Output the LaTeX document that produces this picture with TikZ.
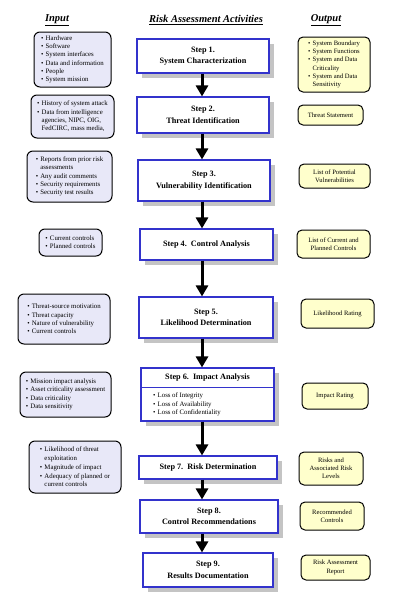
\documentclass[tikz,border=0pt]{standalone}
\usepackage{fontspec}
\setmainfont{Liberation Serif}
\usetikzlibrary{arrows.meta,shadows}
\pgfdeclarelayer{bg}
\pgfsetlayers{bg,main}
\definecolor{stepblue}{HTML}{3333CC}
\definecolor{infill}{HTML}{E8E8F8}
\definecolor{outfill}{HTML}{FFFFCC}
\definecolor{shadowgray}{HTML}{C4C4C4}
\newcommand\bul[1]{\makebox[4.5pt][l]{•}#1}
\newcommand\ind{\hspace*{4.5pt}}
\begin{document}
\begin{tikzpicture}[x=1pt,y=-1pt,
  stepbox/.style={draw=stepblue, line width=1.1pt, fill=white, inner sep=0pt, align=center,
    font=\fontsize{8.2}{11.5}\selectfont\bfseries,
    general shadow={fill=shadowgray, shadow xshift=5pt, shadow yshift=-5pt}},
  inbox/.style={draw=black, line width=1pt, fill=infill, rounded corners=6pt, inner sep=0pt,
    align=left, font=\fontsize{6.8}{8.3}\selectfont},
  outbox/.style={draw=black, line width=1pt, fill=outfill, rounded corners=5pt, inner sep=0pt,
    align=center, font=\fontsize{6.6}{8.2}\selectfont},
  head/.style={font=\fontsize{10.5}{12}\selectfont\bfseries\itshape},
  inarrow/.style={line width=0.9pt, -{Triangle[length=6pt,width=5.5pt]}},
  outarrow/.style={line width=1.2pt, -{Triangle[length=6pt,width=5.5pt]}},
  downarrow/.style={line width=3pt, -{Triangle[length=11pt,width=12pt]}}
]
\useasboundingbox (0,0) rectangle (416,595);
\fill[white] (0,0) rectangle (416,595);

% headers
\node[head] (hin) at (57,20) {\underline{Input}};
\node[head] (hra) at (206,20) {\underline{Risk Assessment Activities}};
\node[head] (hout) at (326,20) {\underline{Output}};

% steps
\node[stepbox, minimum width=132, minimum height=34] (s1) at (203,56) {Step 1.\\System Characterization};
\node[stepbox, minimum width=132, minimum height=36] (s2) at (203,115) {Step 2.\\Threat Identification};
\node[stepbox, minimum width=132, minimum height=41] (s3) at (204,180.5) {Step 3.\\Vulnerability Identification};
\node[stepbox, minimum width=133, minimum height=31] (s4) at (206.5,244.5) {Step 4.\ \ Control Analysis};
\node[stepbox, minimum width=134, minimum height=41] (s5) at (206,317.5) {Step 5.\\Likelihood Determination};
\node[stepbox, minimum width=133, minimum height=53] (s6) at (207.5,394.5) {};
\node[stepbox, minimum width=138, minimum height=23] (s7) at (208,467.5) {Step 7.\ \ Risk Determination};
\node[stepbox, minimum width=138, minimum height=33] (s8) at (209,516.5) {Step 8.\\Control Recommendations};
\node[stepbox, minimum width=130, minimum height=34] (s9) at (208,570) {Step 9.\\Results Documentation};

% step 6 inner parts
\node[font=\fontsize{8.2}{10}\selectfont\bfseries, minimum height=19, inner sep=0pt] (s6t) at (207.5,377.5) {Step 6.\ \ Impact Analysis};
\draw[stepblue, line width=0.9pt] (s6.west |- s6t.south) -- (s6.east |- s6t.south);
\node[anchor=west, align=left, inner sep=0pt, font=\fontsize{6.8}{8.6}\selectfont] (s6b) at (153,404.5)
  {\bul{Loss of Integrity}\\\bul{Loss of Availability}\\\bul{Loss of Confidentiality}};

% inputs
\node[inbox, minimum width=77, minimum height=55] (i1) at (72.5,59.5)
  {\bul{Hardware}\\\bul{Software}\\\bul{System interfaces}\\\bul{Data and information}\\\bul{People}\\\bul{System mission}};
\node[inbox, minimum width=83, minimum height=43] (i2) at (72.5,116.5)
  {\bul{History of system attack}\\\bul{Data from intelligence}\\\ind agencies, NIPC, OIG,\\\ind FedCIRC, mass media,};
\node[inbox, minimum width=85, minimum height=51] (i3) at (69.5,176.5)
  {\bul{Reports from prior risk}\\\ind assessments\\\bul{Any audit comments}\\\bul{Security requirements}\\\bul{Security test results}};
\node[inbox, minimum width=63, minimum height=27] (i4) at (70.5,242.5)
  {\bul{Current controls}\\\bul{Planned controls}};
\node[inbox, minimum width=92, minimum height=50] (i5) at (64,319)
  {\bul{Threat-source motivation}\\\bul{Threat capacity}\\\bul{Nature of vulnerability}\\\bul{Current controls}};
\node[inbox, minimum width=91, minimum height=45] (i6) at (65.5,394.5)
  {\bul{Mission impact analysis}\\\bul{Asset criticality assessment}\\\bul{Data criticality}\\\bul{Data sensitivity}};
\node[inbox, minimum width=92, minimum height=52] (i7) at (75,467)
  {\bul{Likelihood of threat}\\\ind exploitation\\[1pt]\bul{Magnitude of impact}\\[1pt]\bul{Adequacy of planned or}\\\ind current controls};

% outputs
\node[outbox, minimum width=72, minimum height=55, align=left] (o1) at (334,64.5)
  {\bul{System Boundary}\\\bul{System Functions}\\\bul{System and Data}\\\ind Criticality\\\bul{System and Data}\\\ind Sensitivity};
\node[outbox, minimum width=65, minimum height=20] (o2) at (330.5,115) {Threat Statement};
\node[outbox, minimum width=71, minimum height=24] (o3) at (334.5,176) {List of Potential\\Vulnerabilities};
\node[outbox, minimum width=73, minimum height=28] (o4) at (333.5,244) {List of Current and\\Planned Controls};
\node[outbox, minimum width=73, minimum height=29] (o5) at (337.5,313.5) {Likelihood Rating};
\node[outbox, minimum width=66, minimum height=26] (o6) at (335,396) {Impact Rating};
\node[outbox, minimum width=64, minimum height=33] (o7) at (331,468.5) {Risks and\\Associated Risk\\Levels};
\node[outbox, minimum width=64, minimum height=28] (o8) at (332,516) {Recommended\\Controls};
\node[outbox, minimum width=69, minimum height=25] (o9) at (335.5,567.5) {Risk Assessment\\Report};

\coordinate (col) at (202,0);

\begin{pgfonlayer}{bg}
% input arrows
\draw[inarrow] (s1.west -| i1.east) -- (s1.west);
\draw[inarrow] (s2.west -| i2.east) -- (s2.west);
\draw[inarrow] (s3.west -| i3.east) -- (s3.west);
\draw[inarrow] (s4.west -| i4.east) -- (s4.west);
\draw[inarrow] (s5.west -| i5.east) -- (s5.west);
\draw[inarrow] (s6.west -| i6.east) -- (s6.west);
\draw[inarrow] (s7.west -| i7.east) -- (s7.west);
% output arrows
\draw[outarrow] (s1.east) -- (s1.east -| o1.west);
\draw[outarrow] (s2.east) -- (s2.east -| o2.west);
\draw[outarrow] (s3.east) -- (s3.east -| o3.west);
\draw[outarrow] (s4.east) -- (s4.east -| o4.west);
\draw[outarrow] (s5.east) -- (s5.east -| o5.west);
\draw[outarrow] (s6.east) -- (s6.east -| o6.west);
\draw[outarrow] (s7.east) -- (s7.east -| o7.west);
\draw[outarrow] (s8.east) -- (s8.east -| o8.west);
\draw[outarrow] (s9.east) -- (s9.east -| o9.west);
\end{pgfonlayer}

% down arrows
\draw[downarrow] (col |- s1.south) -- (col |- s2.north);
\draw[downarrow] (col |- s2.south) -- (col |- s3.north);
\draw[downarrow] (col |- s3.south) -- (col |- s4.north);
\draw[downarrow] (col |- s4.south) -- (col |- s5.north);
\draw[downarrow] (col |- s5.south) -- (col |- s6.north);
\draw[downarrow] (col |- s6.south) -- (col |- s7.north);
\draw[downarrow] (col |- s7.south) -- (col |- s8.north);
\draw[downarrow] (col |- s8.south) -- (col |- s9.north);
\end{tikzpicture}
\end{document}
